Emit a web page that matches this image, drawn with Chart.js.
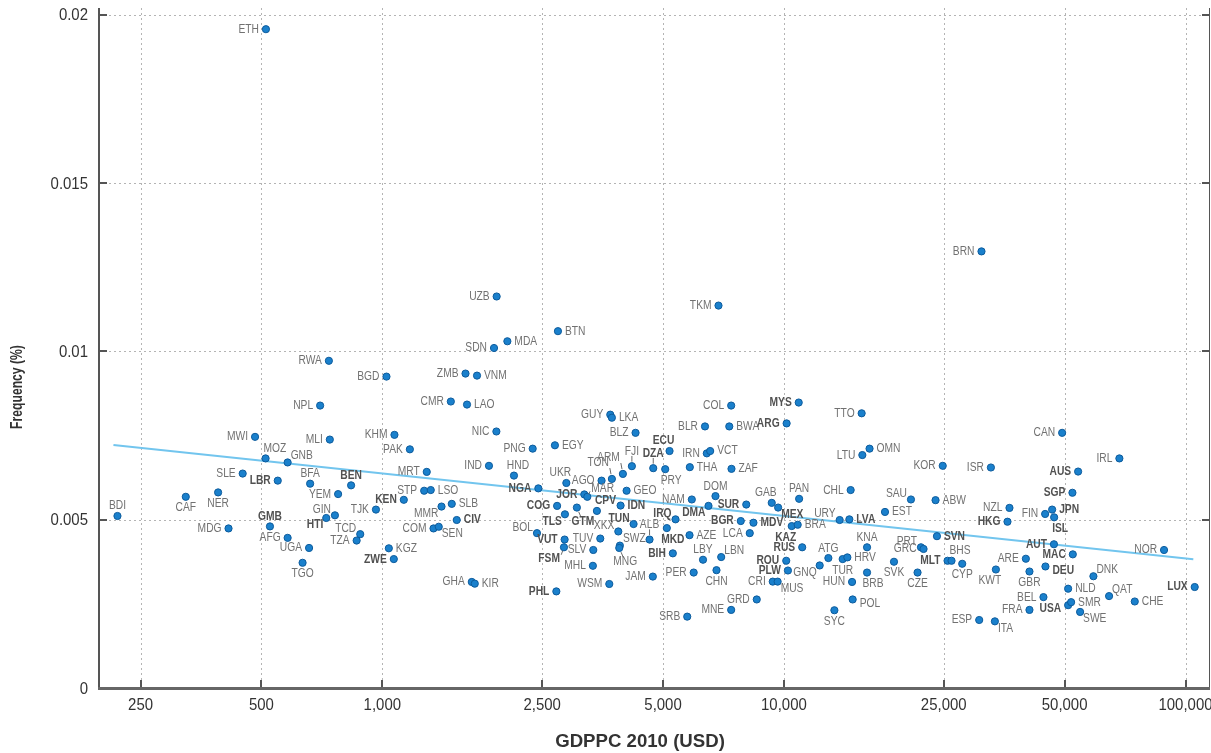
<!DOCTYPE html>
<html><head><meta charset="utf-8">
<script src="https://cdn.jsdelivr.net/npm/chart.js@4.4.1/dist/chart.umd.min.js"></script>
<style>html,body{margin:0;padding:0;background:#fff;overflow:hidden}</style>
</head><body>
<canvas id="c" width="1211" height="753"></canvas>
<script>
const codes = ["BDI","CAF","NER","MDG","MWI","MOZ","GNB","SLE","LBR","BFA","GMB","AFG","UGA","TGO","MLI","YEM","GIN","HTI","ETH","RWA","NPL","BGD","TJK","KHM","PAK","BEN","TCD","TZA","KGZ","ZWE","KEN","MRT","STP","LSO","MMR","SLB","COM","SEN","CIV","CMR","LAO","ZMB","VNM","UZB","SDN","MDA","NIC","IND","HND","PNG","NGA","GHA","KIR","BOL","COG","TLS","VUT","FSM","PHL","EGY","UKR","BTN","GUY","LKA","BLZ","JOR","MAR","AGO","TON","ARM","FJI","CPV","GTM","GEO","IDN","TUN","XKX","TUV","SLV","SWZ","MNG","MHL","WSM","ALB","MKD","DZA","ECU","PRY","IRQ","BIH","JAM","NAM","THA","IRN","VCT","BLR","BWA","COL","TKM","DOM","DMA","AZE","LBY","LBN","PER","CHN","SRB","MNE","GRD","ZAF","SUR","BGR","MDV","LCA","GAB","MEX","PAN","KAZ","BRA","RUS","ROU","PLW","CRI","MUS","ARG","MYS","ATG","GNQ","TUR","HRV","HUN","URY","LVA","CHL","KNA","BRB","POL","SYC","TTO","LTU","OMN","EST","SAU","SVK","CZE","PRT","GRC","KOR","ABW","SVN","MLT","BHS","CYP","BRN","ISR","KWT","ESP","ITA","NZL","HKG","ARE","GBR","FRA","BEL","FIN","JPN","ISL","AUT","MAC","DEU","USA","NLD","SMR","SWE","CAN","AUS","SGP","DNK","QAT","IRL","CHE","NOR","LUX"];
const gdppc = [219,324,390,414,482,512,581,449,549,661,525,581,657,633,740,776,762,725,513,736,700,1024,964,1072,1171,836,881,863,1038,1068,1131,1290,1271,1320,1404,1489,1341,1382,1532,1481,1625,1611,1721,1926,1897,2048,1923,1843,2127,2368,2446,1670,1699,2427,2724,2849,2844,2833,2712,2690,2872,2737,3695,3729,4271,3184,3239,3515,3729,3972,4182,3422,3051,4057,3920,4223,3869,3489,3352,3904,3890,3344,3674,4628,5110,4727,5190,5063,5371,5289,4716,5897,5830,6426,6552,6360,7310,7390,6872,6754,6489,5820,6288,6979,5961,6793,5744,7390,8557,7403,8058,7808,8397,8221,9325,9673,10910,10457,10822,11105,10133,10232,9379,9646,10156,10885,12903,12276,14005,14387,14780,13766,14553,14661,16105,16105,14831,13355,15615,15677,16338,17851,20717,18796,21515,21940,22268,24857,23853,24046,25550,26143,27795,31043,32763,33713,30638,33520,36445,36030,40035,40870,40870,44285,44715,46545,47080,47030,52400,44790,51015,51015,51895,54640,49290,54020,52285,58970,64515,68440,74750,88410,105410];
const freq = [0.00511,0.00568,0.00581,0.00474,0.00746,0.00682,0.00670,0.00637,0.00616,0.00607,0.00480,0.00446,0.00416,0.00372,0.00738,0.00576,0.00513,0.00505,0.01957,0.00972,0.00839,0.00925,0.00530,0.00752,0.00709,0.00602,0.00457,0.00438,0.00415,0.00383,0.00559,0.00642,0.00586,0.00588,0.00539,0.00547,0.00474,0.00479,0.00499,0.00851,0.00842,0.00934,0.00928,0.01163,0.01010,0.01030,0.00762,0.00660,0.00631,0.00711,0.00593,0.00315,0.00310,0.00460,0.00541,0.00516,0.00441,0.00418,0.00287,0.00721,0.00609,0.01060,0.00812,0.00803,0.00758,0.00575,0.00568,0.00616,0.00621,0.00636,0.00659,0.00526,0.00536,0.00586,0.00542,0.00487,0.00465,0.00444,0.00410,0.00423,0.00416,0.00363,0.00309,0.00441,0.00475,0.00653,0.00704,0.00650,0.00501,0.00400,0.00331,0.00560,0.00656,0.00697,0.00704,0.00777,0.00777,0.00839,0.01136,0.00570,0.00541,0.00454,0.00381,0.00389,0.00343,0.00350,0.00212,0.00232,0.00263,0.00651,0.00545,0.00496,0.00491,0.00460,0.00550,0.00536,0.00562,0.00481,0.00485,0.00418,0.00378,0.00349,0.00316,0.00316,0.00786,0.00848,0.00386,0.00364,0.00383,0.00388,0.00315,0.00499,0.00501,0.00588,0.00418,0.00343,0.00263,0.00231,0.00816,0.00692,0.00711,0.00523,0.00560,0.00375,0.00343,0.00418,0.00413,0.00660,0.00558,0.00451,0.00378,0.00378,0.00369,0.01297,0.00655,0.00352,0.00202,0.00198,0.00535,0.00494,0.00384,0.00346,0.00232,0.00270,0.00517,0.00530,0.00507,0.00427,0.00397,0.00361,0.00246,0.00295,0.00255,0.00226,0.00758,0.00643,0.00580,0.00332,0.00273,0.00682,0.00257,0.00410,0.00300];
const labelPos = ["t","b","b","l","l","tr2","tr","l","l","t","t","l","l","b","l","l","tl","bl","l","l","l","l","l","l","l","t","tl","l","r","l","l","l","l","r","bl","r","l","br","r","l","r","l","r","l","l","r","l","l","t>","l","l","l","r","tl","l","bl","l","BL","l","r","t<","r","l","r","l","l","TR","l","TL","TL","T","tr2","B","r","r","tl","tl","l","l","tr","B","l","l","T","b>","T","t<","b>","tl","l","l","l","r","l","r","l","r","l","l","t","bl","r","t","tr","l","b","l","l","l","r","l","l","r","l","t<","br","t","b<","r","l","l","l","l","br","l","l","t","bl","b","r","l","tl","r","l","t","b>","r+","b","l","l","r","r","tl","b","b","tl","l","l","r","r","l","tr2","b","l","l","b<","l","br","l","l","l","b","l","l","l","r","b>","l","l","r+","l+","r","r","br","l","l","l","tr","tr","l","r","l","l"];
const boldCodes = ["LBR","GMB","HTI","BEN","KEN","ZWE","CIV","NGA","COG","TLS","VUT","FSM","PHL","JOR","CPV","GTM","IDN","TUN","DZA","ECU","IRQ","MKD","BIH","DMA","SUR","BGR","MDV","MEX","KAZ","RUS","ROU","PLW","LVA","MYS","ARG","SVN","MLT","HKG","AUT","MAC","DEU","USA","LUX","SGP","JPN","AUS","ISL"];
const trendGdp = [214, 104570];
const trendFreq = [0.00722, 0.003825];
const xTicks = [250,500,1000,2500,5000,10000,25000,50000,100000];
const yTicks = [0,0.005,0.01,0.015,0.02];
const xTitle = "GDPPC 2010 (USD)";
const yTitle = "Frequency (%)";

function hasFont(f){const c=document.createElement('canvas').getContext('2d');c.font='40px monospace';const a=c.measureText('MWIabc123,.').width;c.font='40px "'+f+'",monospace';return c.measureText('MWIabc123,.').width!==a;}
const NARROW = hasFont('Liberation Sans Narrow');
const FAM = NARROW ? '"Liberation Sans Narrow"' : '"Liberation Sans", Arial, sans-serif';
const SX = NARROW ? 1 : 0.82;
const BASE = '"Liberation Sans", Arial, sans-serif';

const P = {
 'l':[-7,0,'right'], 'l+':[-7,3,'right'], 'r':[7,0,'left'], 'r+':[7,4,'left'],
 't':[0,-10,'center'], 't<':[-6,-10,'center'], 't>':[4,-10,'center'],
 'b':[0,11,'center'], 'b<':[-6,11,'center'], 'b>':[6,11,'center'],
 'tl':[-4,-6,'right'], 'tr':[3,-7,'left'], 'tr2':[-2,-10,'left'], 'bl':[-3,7,'right'], 'br':[3,7,'left'],
 'T':[0,-15,'center',1], 'B':[6,14,'center',1], 'TL':[-3,-16,'right',1], 'TR':[4,-8,'left',1], 'BL':[-4,11,'right',1]
};

function txt(ctx,s,x,y,align,font,color,sx){
  ctx.save();ctx.font=font;ctx.fillStyle=color;ctx.textBaseline='middle';ctx.textAlign=align;
  ctx.translate(x,y);ctx.scale(sx,1);ctx.fillText(s,0,0);ctx.restore();
}

const decor = {
  id:'decor',
  beforeDatasetsDraw(chart){
    const {ctx, chartArea:a, scales:{x,y}} = chart;
    ctx.save();
    ctx.strokeStyle='#b4b4b4'; ctx.lineWidth=1; ctx.setLineDash([2,3]);
    x.ticks.forEach(t=>{const px=Math.round(x.getPixelForValue(t.value))+0.5;ctx.beginPath();ctx.moveTo(px,a.top);ctx.lineTo(px,a.bottom);ctx.stroke();});
    y.ticks.forEach(t=>{if(t.value===0)return;const py=Math.round(y.getPixelForValue(t.value))+0.5;ctx.beginPath();ctx.moveTo(a.left,py);ctx.lineTo(a.right,py);ctx.stroke();});
    ctx.setLineDash([]);
    ctx.strokeStyle='#555';
    ctx.lineWidth=2;
    ctx.beginPath();ctx.moveTo(a.left,a.top);ctx.lineTo(a.left,a.bottom);ctx.stroke();
    ctx.lineWidth=1;
    ctx.beginPath();ctx.moveTo(a.right-0.5,a.top);ctx.lineTo(a.right-0.5,a.bottom);ctx.stroke();
    ctx.lineWidth=2;
    y.ticks.forEach(t=>{const py=Math.round(y.getPixelForValue(t.value));ctx.beginPath();ctx.moveTo(a.left,py);ctx.lineTo(a.left+8,py);ctx.moveTo(a.right-8,py);ctx.lineTo(a.right,py);ctx.stroke();});
    x.ticks.forEach(t=>{const px=Math.round(x.getPixelForValue(t.value));ctx.beginPath();ctx.moveTo(px,a.bottom);ctx.lineTo(px,a.bottom-8);ctx.stroke();});
    ctx.strokeStyle='#666';ctx.lineWidth=3;
    ctx.beginPath();ctx.moveTo(a.left-1,a.bottom+0.5);ctx.lineTo(a.right,a.bottom+0.5);ctx.stroke();
    x.ticks.forEach(t=>{txt(ctx,Number(t.value).toLocaleString('en-US'),x.getPixelForValue(t.value),a.bottom+17,'center','17px '+BASE,'#333',0.88);});
    y.ticks.forEach(t=>{txt(ctx,String(t.value),a.left-11,y.getPixelForValue(t.value)+1,'right','17px '+BASE,'#333',0.88);});
    ctx.restore();
  },
  afterDatasetsDraw(chart){
    const {ctx, scales:{x,y}} = chart;
    const bold = new Set(boldCodes);
    codes.forEach((c,i)=>{
      const px=x.getPixelForValue(gdppc[i]), py=y.getPixelForValue(freq[i]);
      const p=P[labelPos[i]]||P.l;
      if(p[3]){
        ctx.save();ctx.strokeStyle='#6a6a6a';ctx.lineWidth=1;ctx.beginPath();
        ctx.moveTo(px+p[0]*0.3,py+p[1]*0.3);ctx.lineTo(px+p[0]*0.68,py+p[1]*0.68);ctx.stroke();ctx.restore();
      }
      const b=bold.has(c);
      txt(ctx,c,px+p[0],py+p[1],p[2],(b?'bold ':'')+'12.5px '+FAM,b?'#515151':'#717171',SX);
    });
  },
  afterDraw(chart){
    const {ctx} = chart;
    txt(ctx,xTitle,640,742,'center','bold 19px '+BASE,'#333',0.98);
    ctx.save();ctx.translate(18,387);ctx.rotate(-Math.PI/2);
    txt(ctx,yTitle,0,0,'center','bold 16px '+BASE,'#333',0.76);
    ctx.restore();
  }
};

new Chart(document.getElementById('c'),{
  type:'scatter',
  data:{datasets:[
    {type:'scatter',data:codes.map((c,i)=>({x:gdppc[i],y:freq[i]})),backgroundColor:'#1a80cc',borderColor:'#0d5b9c',borderWidth:1,pointRadius:3.6,order:0},
    {type:'line',data:trendGdp.map((g,i)=>({x:g,y:trendFreq[i]})),borderColor:'#72c5ee',borderWidth:2,pointRadius:0,fill:false,order:1}
  ]},
  options:{
    responsive:false,animation:false,devicePixelRatio:1,
    layout:{autoPadding:false,padding:{top:8,right:1,left:0,bottom:0}},
    plugins:{legend:{display:false},tooltip:{enabled:false}},
    scales:{
      x:{type:'logarithmic',min:197,max:115070,
        afterBuildTicks:s=>{s.ticks=xTicks.map(v=>({value:v}));},
        afterFit:s=>{s.height=65;s.paddingLeft=0;s.paddingRight=0;},
        grid:{display:false,drawTicks:false},border:{display:false},
        ticks:{display:false,autoSkip:false,maxRotation:0}},
      y:{type:'linear',min:0,max:0.0202,
        afterBuildTicks:s=>{s.ticks=yTicks.map(v=>({value:v}));},
        afterFit:s=>{s.width=99;s.paddingTop=0;s.paddingBottom=0;},
        grid:{display:false,drawTicks:false},border:{display:false},
        ticks:{display:false}}
    }
  },
  plugins:[decor]
});
</script>
</body></html>
